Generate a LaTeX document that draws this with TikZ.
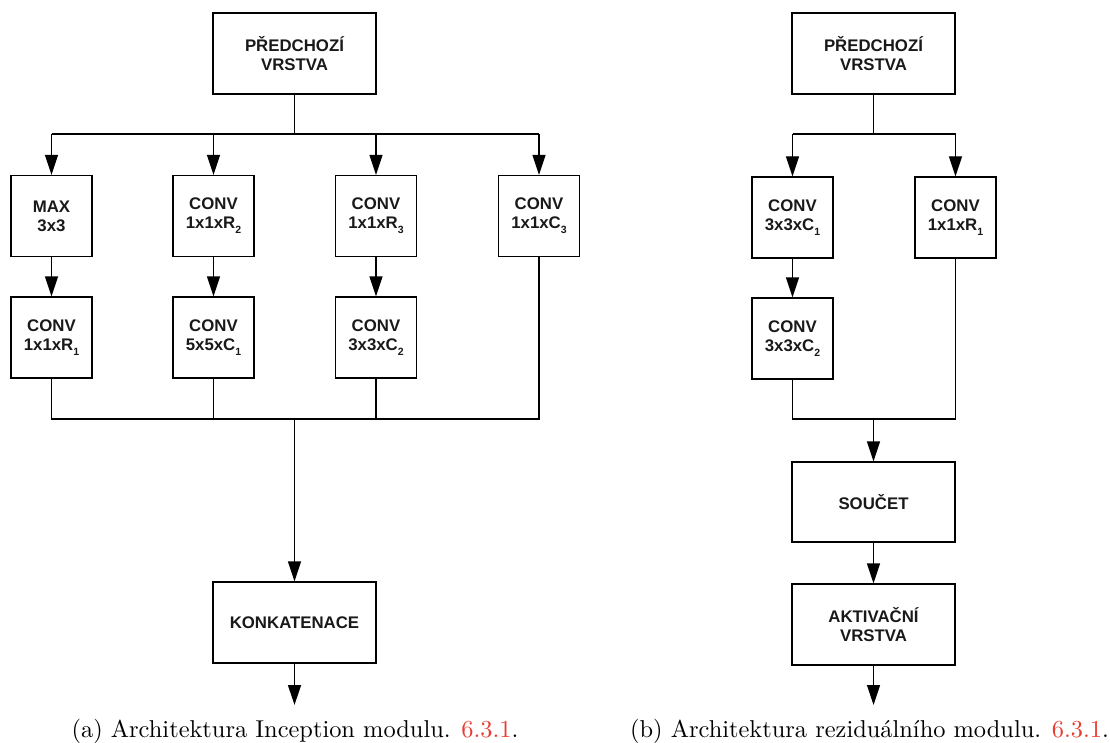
\documentclass[tikz,border=0pt]{standalone}
\usepackage{fontspec}
\setmainfont{Latin Modern Roman}
\newfontfamily\boxfont{Liberation Sans}
\newfontfamily\capfont{lmroman10-regular.otf}
\usetikzlibrary{arrows.meta}
\definecolor{linkred}{RGB}{232,62,50}
\newcommand{\sbx}[1]{\raisebox{-5pt}{\fontsize{10.5}{10.5}\selectfont #1}}
\tikzset{
  blk/.style={draw, line width=1.3pt, rectangle, minimum width=81pt, minimum height=81pt,
    inner sep=0pt, align=center, font=\boxfont\bfseries\fontsize{16.8}{19}\selectfont, text=black!90},
  wideblk/.style={blk, minimum width=163pt},
  ln/.style={line width=1.3pt},
  arr/.style={line width=1.3pt, -{Triangle[length=20pt,width=13pt]}},
  captxt/.style={font=\capfont\fontsize{24.4}{28}\selectfont, inner sep=0pt, anchor=base}
}
\begin{document}
\begin{tikzpicture}[x=1pt,y=-1pt]
\useasboundingbox (0,0) rectangle (1110,743);
% ---------- (a) Inception ----------
\node[wideblk] (pa) at (294.5,53.5) {PŘEDCHOZÍ\\VRSTVA};
\node[blk] (a1) at (51.5,216) {MAX\\3x3};
\node[blk] (a2) at (213.5,216) {CONV\\1x1xR\sbx{2}};
\node[blk] (a3) at (376,216) {CONV\\1x1xR\sbx{3}};
\node[blk] (a4) at (539,216) {CONV\\1x1xC\sbx{3}};
\node[blk] (b1) at (51.5,337.5) {CONV\\1x1xR\sbx{1}};
\node[blk] (b2) at (213.5,337.5) {CONV\\5x5xC\sbx{1}};
\node[blk] (b3) at (376,337.5) {CONV\\3x3xC\sbx{2}};
\node[wideblk] (ka) at (294.5,622.5) {KONKATENACE};
\coordinate (ta) at (294.5,134);
\coordinate (ba) at (294.5,419);
\coordinate (ea) at (294.5,705);
\draw[ln] (pa.south) -- (ta);
\draw[ln] (a1.north |- ta) -- (a4.north |- ta);
\foreach \n in {a1,a2,a3,a4} \draw[arr] (\n.north |- ta) -- (\n.north);
\draw[arr] (a1) -- (b1);
\draw[arr] (a2) -- (b2);
\draw[arr] (a3) -- (b3);
\draw[ln] (b1.south) -- (b1.south |- ba) -- (a4.south |- ba) -- (a4.south);
\draw[ln] (b2.south) -- (b2.south |- ba);
\draw[ln] (b3.south) -- (b3.south |- ba);
\draw[arr] (ba) -- (ka.north);
\draw[arr] (ka.south) -- (ea);
\node[captxt] (capa) at (295,737) {(a) Architektura Inception modulu. \textcolor{linkred}{6.3.1}.};
% ---------- (b) Residual ----------
\node[wideblk] (pb) at (873.5,53.5) {PŘEDCHOZÍ\\VRSTVA};
\node[blk] (c1) at (792.5,217.5) {CONV\\3x3xC\sbx{1}};
\node[blk] (r1) at (955.5,217.5) {CONV\\1x1xR\sbx{1}};
\node[blk] (c2) at (792.5,338.5) {CONV\\3x3xC\sbx{2}};
\node[wideblk, minimum height=80pt] (sb) at (873.5,502) {SOUČET};
\node[wideblk] (ab) at (873.5,624.5) {AKTIVAČNÍ\\VRSTVA};
\coordinate (tb) at (873.5,134);
\coordinate (bb) at (873.5,419);
\coordinate (eb) at (873.5,705);
\draw[ln] (pb.south) -- (tb);
\draw[ln] (c1.north |- tb) -- (r1.north |- tb);
\draw[arr] (c1.north |- tb) -- (c1.north);
\draw[arr] (r1.north |- tb) -- (r1.north);
\draw[arr] (c1) -- (c2);
\draw[ln] (c2.south) -- (c2.south |- bb) -- (r1.south |- bb) -- (r1.south);
\draw[arr] (bb) -- (sb.north);
\draw[arr] (sb) -- (ab);
\draw[arr] (ab.south) -- (eb);
\node[captxt] (capb) at (869.5,737) {(b) Architektura reziduálního modulu. \textcolor{linkred}{6.3.1}.};
\end{tikzpicture}
\end{document}
